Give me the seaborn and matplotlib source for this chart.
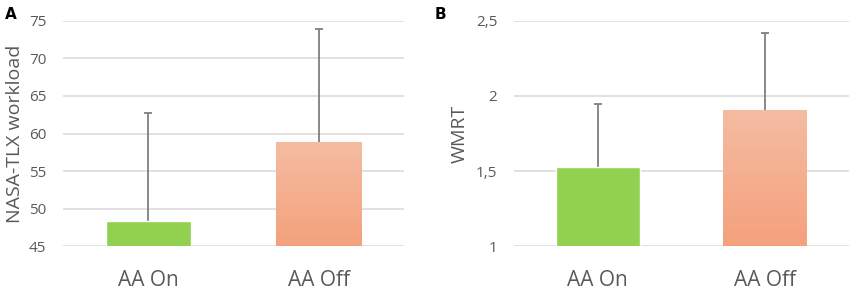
"""Two-panel bar chart: NASA-TLX workload and WMRT, AA On vs AA Off."""

import matplotlib
matplotlib.use("Agg")
import matplotlib.pyplot as plt
import seaborn as sns
import pandas as pd
import numpy as np
from matplotlib.colors import LinearSegmentedColormap
from matplotlib.ticker import FuncFormatter

conditions = ["AA On", "AA Off"]
tlx_mean = [48.4, 58.8]
tlx_err = [14.3, 15.1]
wmrt_mean = [1.53, 1.90]
wmrt_err = [0.42, 0.52]

GREEN = "#92D050"
ORANGE_TOP = "#F5BCA2"
ORANGE_BOT = "#F4A17C"
TEXT = "#595959"
GRID = "#D9D9D9"
ERR = "#7F7F7F"

sns.set_theme(style="white")
plt.rcParams["font.family"] = ["Open Sans", "DejaVu Sans"]


def comma_fmt(v, _):
    s = f"{v:g}"
    return s.replace(".", ",")


def draw_panel(ax, means, errs, ylim, step, ylabel, label_x, fmt=None):
    df = pd.DataFrame({"cond": conditions, "val": means})
    sns.barplot(data=df, x="cond", y="val", hue="cond", saturation=1,
                palette=[GREEN, ORANGE_BOT], width=0.5, legend=False, ax=ax,
                zorder=3)

    # gradient fill on the second bar
    patch = ax.patches[1]
    x0, y0 = patch.get_x(), ylim[0]
    x1, y1 = x0 + patch.get_width(), patch.get_height()
    patch.set_facecolor("none")
    patch.set_edgecolor("none")
    cmap = LinearSegmentedColormap.from_list("grad", [ORANGE_BOT, ORANGE_TOP])
    grad = np.linspace(0, 1, 256).reshape(-1, 1)
    ax.imshow(grad, cmap=cmap, origin="lower", aspect="auto",
              extent=(x0, x1, y0, y1), zorder=3)
    ax.set_xlim(-0.5, 1.5)
    ax.set_ylim(*ylim)

    # upper-only error bars, behind the bars
    xs = np.arange(len(means))
    tops = np.array(means) + np.array(errs)
    ax.errorbar(xs, means, yerr=[np.zeros(len(errs)), errs], fmt="none",
                ecolor=ERR, elinewidth=1.3, capsize=0, zorder=2)
    ax.plot(xs, tops, linestyle="none", marker="_", markersize=6,
            markeredgewidth=1.3, color=ERR, zorder=2)

    ax.set_yticks(np.arange(ylim[0], ylim[1] + step / 2, step))
    if fmt is not None:
        ax.yaxis.set_major_formatter(FuncFormatter(fmt))
    ax.grid(axis="y", color=GRID, linewidth=1.1, zorder=0)
    ax.set_axisbelow(True)
    for s in ax.spines.values():
        s.set_visible(False)
    ax.tick_params(axis="both", length=0)
    ax.tick_params(axis="y", labelsize=11, labelcolor=TEXT, pad=12)
    ax.tick_params(axis="x", labelsize=15, labelcolor=TEXT, pad=17)
    ax.set_xlabel("")
    ax.set_ylabel(ylabel, fontsize=14, color=TEXT)
    ax.yaxis.set_label_coords(label_x, 0.5)


fig = plt.figure(figsize=(8.56, 2.9), dpi=100)
ax_a = fig.add_axes([0.0736, 0.1517, 0.3984, 0.7759])
ax_b = fig.add_axes([0.6005, 0.1517, 0.3913, 0.7759])

draw_panel(ax_a, tlx_mean, tlx_err, (45, 75), 5, "NASA-TLX workload", -0.114)
draw_panel(ax_b, wmrt_mean, wmrt_err, (1, 2.5), 0.5, "WMRT", -0.134,
           fmt=comma_fmt)

fig.text(0.006, 0.975, "A", fontsize=11, fontweight="bold", color="black",
         va="top", ha="left", family="DejaVu Sans")
fig.text(0.508, 0.975, "B", fontsize=11, fontweight="bold", color="black",
         va="top", ha="left", family="DejaVu Sans")

fig.savefig("out.png", dpi=100)
